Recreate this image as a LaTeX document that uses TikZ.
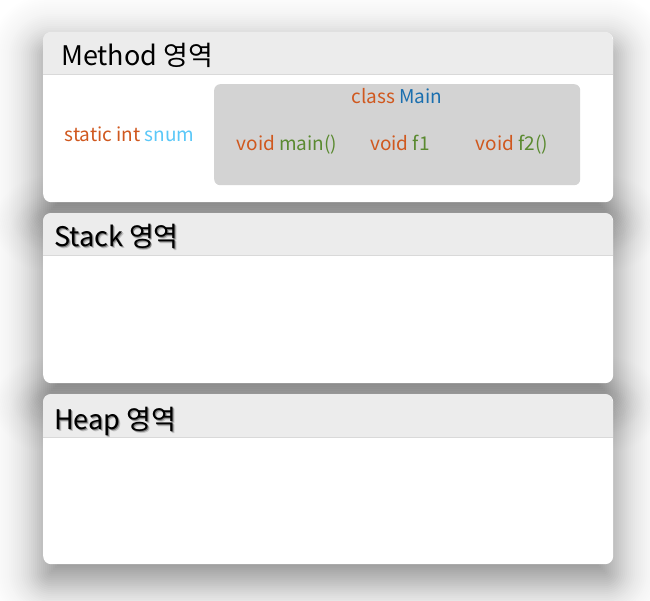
\documentclass[tikz,border=0pt]{standalone}
\usepackage{fontspec}
\setmainfont{Noto Sans CJK KR}
\definecolor{headfill}{HTML}{ECECEC}
\definecolor{headline}{HTML}{D9D9D9}
\definecolor{classbox}{HTML}{D3D3D3}
\definecolor{kw}{HTML}{D0581E}
\definecolor{idblue}{HTML}{1A6FAF}
\definecolor{idlight}{HTML}{5BC8F8}
\definecolor{idgreen}{HTML}{5A8A30}
\definecolor{glowfar}{HTML}{C4C4C4}
\definecolor{glownear}{HTML}{7A7A7A}
\tikzset{
  paneltitle/.style={anchor=base west, inner sep=0pt, font=\fontsize{27}{32}\selectfont},
  code/.style={anchor=base, inner sep=0pt, font=\fontsize{19}{23}\selectfont},
  panelbody/.style={fill=white, rounded corners=8pt},
}
% title with a soft text shadow, set in one box
\newcommand\glowtitle[1]{%
  \makebox[0pt][l]{\kern2pt\raisebox{-2pt}{\color{glowfar}#1}}%
  \makebox[0pt][l]{\kern1pt\raisebox{-1pt}{\color{glownear}#1}}%
  #1}
% one memory area: white body, grey header band
\newcommand\memarea[6]{% name, x0, y0, x1, y1, header bottom
  \node[panelbody, minimum width={(#4-#2)*1pt}, minimum height={(#5-#3)*1pt},
        inner sep=0pt, anchor=north west] (#1) at (#2,#3) {};
  \begin{scope}
    \clip[rounded corners=8pt] (#2,#3) rectangle (#4,#5);
    \fill[headfill] (#2,#3) rectangle (#4,#6);
    \draw[headline, line width=1pt] (#2,#6) -- (#4,#6);
  \end{scope}
}
% blurred drop shadow of a box: translucent rings, from outside in;
% each ring's opacity is chosen so the stack follows a soft edge profile
\newcommand\dropshade[4]{%
  \foreach \d in {70,68,...,-30}{%
    \pgfmathsetmacro\dout{0.5/(1+exp((\d+2)/16))}%
    \pgfmathsetmacro\din{0.5/(1+exp(\d/16))}%
    \pgfmathsetmacro\op{1-(1-\din)/(1-\dout)}%
    \pgfmathsetmacro\rr{max(8+\d,0.5)}%
    \fill[black, fill opacity=\op, rounded corners=\rr pt]
      (#1-\d, #2-\d+16) rectangle (#3+\d, #4+\d+16);
  }%
}
\begin{document}
\begin{tikzpicture}[x=1pt, y=-1pt]
  \useasboundingbox (0,0) rectangle (650,600);
  \fill[white] (0,0) rectangle (650,600);

  % shadows
  \dropshade{43}{32}{613}{202}
  \dropshade{43}{213}{613}{383}
  \dropshade{43}{394}{613}{564}

  % Method area
  \memarea{method}{43}{32}{613}{202}{74}
  \node[paneltitle] (methodtitle) at (61,65) {Method 영역};
  \node[fill=classbox, rounded corners=6pt, minimum width=366pt, minimum height=101pt,
        inner sep=0pt, anchor=north west] (mainclass) at (214,84) {};
  \node[code] (classname) at (397,103) {\textcolor{kw}{class} \textcolor{idblue}{Main}};
  \node[code] (snum) at (129.5,141) {\textcolor{kw}{static int} \textcolor{idlight}{snum}};
  \node[code] (fmain) at (287,150) {\textcolor{kw}{void} \textcolor{idgreen}{main()}};
  \node[code] (fone) at (400,150) {\textcolor{kw}{void} \textcolor{idgreen}{f1}};
  \node[code] (ftwo) at (512,150) {\textcolor{kw}{void} \textcolor{idgreen}{f2()}};

  % Stack area
  \memarea{stack}{43}{213}{613}{383}{255}
  \node[paneltitle] (stacktitle) at (54,246) {\glowtitle{Stack 영역}};

  % Heap area
  \memarea{heap}{43}{394}{613}{564}{437}
  \node[paneltitle] (heaptitle) at (54,429) {\glowtitle{Heap 영역}};
\end{tikzpicture}
\end{document}
